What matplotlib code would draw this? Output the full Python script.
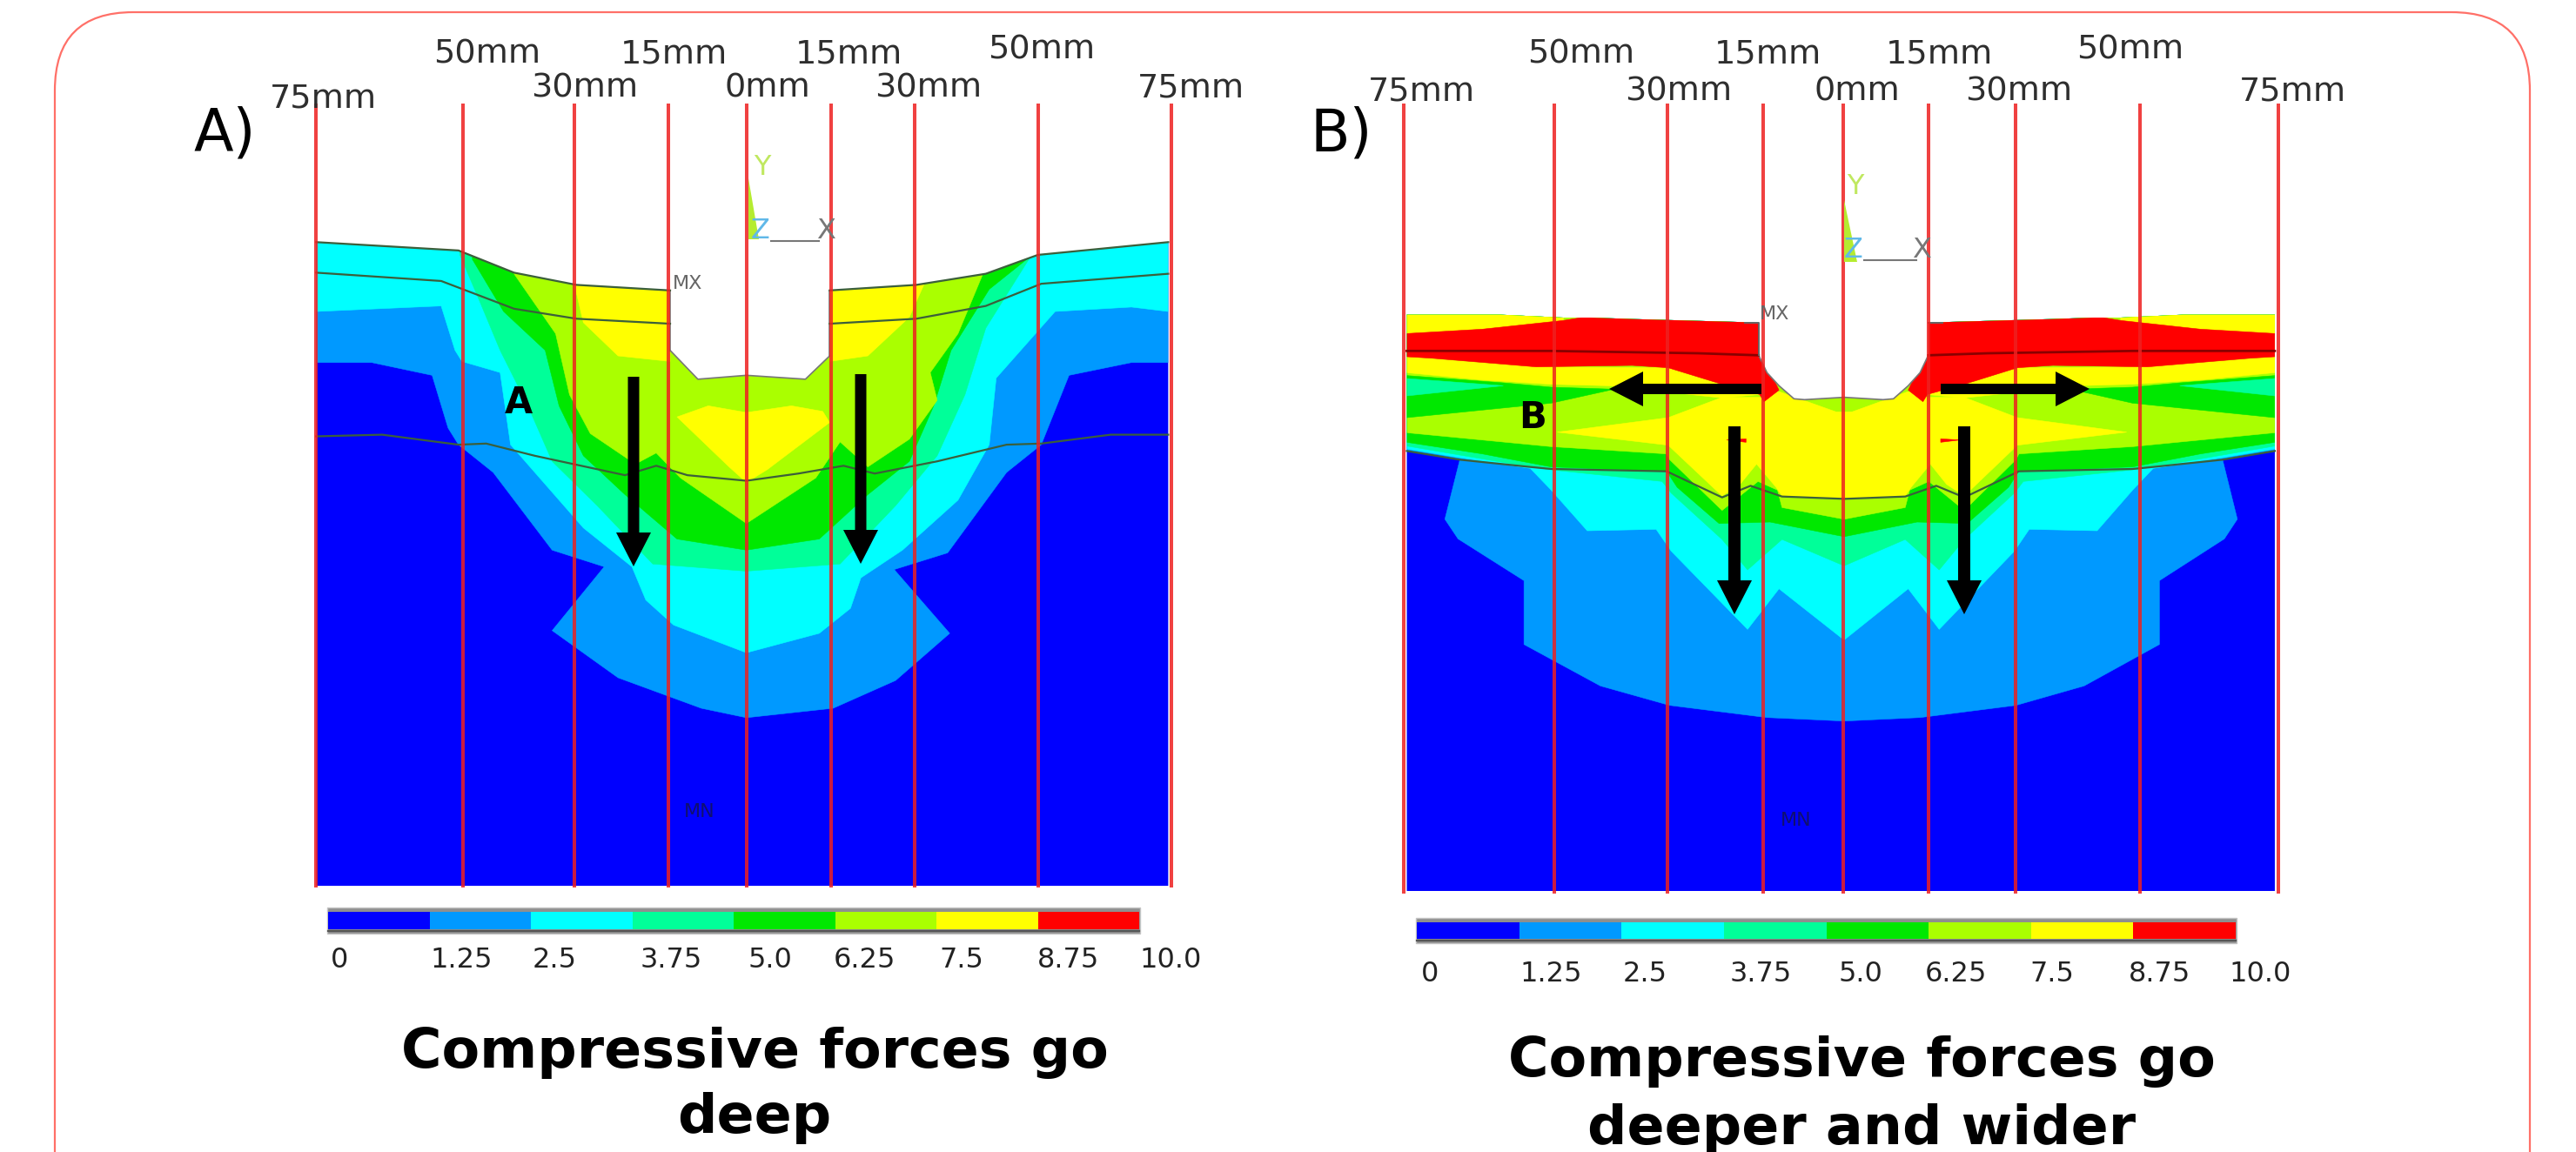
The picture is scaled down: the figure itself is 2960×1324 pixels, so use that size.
import numpy as np
import matplotlib
matplotlib.use("Agg")
import matplotlib.pyplot as plt
from matplotlib.patches import Polygon, Rectangle, FancyBboxPatch

plt.rcParams['font.family'] = ['DejaVu Sans']

LEVEL_COLORS = ['#0000ff', '#0099ff', '#00ffff', '#00ff99', '#00e800', '#aaff00', '#ffff00', '#ff0000']
LEVEL_LABELS = ['0', '1.25', '2.5', '3.75', '5.0', '6.25', '7.5', '8.75', '10.0']
DIST_LABELS = ['75mm', '50mm', '30mm', '15mm', '0mm', '15mm', '30mm', '50mm', '75mm']

# ---------- Panel A: read in crop units (crop origin 200,20; x scale 1.2544; y scale 1.568)
A_TOP = [(205, 405), (410, 420), (490, 460), (580, 482), (715, 492), (945, 492), (1070, 482), (1170, 462), (1245, 428), (1433, 405)]
A_BOTTOM = 1565
A_LIGHTBLUE = [(205, 622), (285, 622), (372, 645), (395, 740), (410, 770), (460, 820), (545, 960), (620, 990), (545, 1105), (640, 1190), (760, 1245), (825, 1262), (950, 1245), (1040, 1195), (1118, 1110), (1038, 995), (1115, 965), (1200, 820), (1250, 770), (1290, 645), (1380, 622), (1433, 622)]
A_CYAN = [(205, 530), (385, 520), (405, 600), (415, 620), (470, 640), (485, 770), (520, 820), (590, 920), (660, 990), (680, 1050), (720, 1095), (825, 1145), (930, 1110), (975, 1065), (990, 1010), (1050, 960), (1130, 870), (1175, 770), (1185, 650), (1270, 530), (1380, 522), (1433, 530)]
A_TEAL = [(412, 428), (440, 510), (470, 600), (510, 700), (545, 800), (610, 880), (690, 985), (825, 998), (960, 985), (1040, 880), (1100, 790), (1140, 680), (1170, 560), (1235, 430)]
A_GREEN = [(430, 436), (475, 530), (535, 600), (555, 700), (590, 790), (650, 860), (725, 940), (825, 960), (930, 940), (1000, 860), (1060, 800), (1095, 700), (1120, 600), (1175, 490), (1235, 430)]
A_LIME = [(490, 462), (550, 570), (570, 680), (600, 750), (665, 805), (695, 785), (730, 830), (825, 912), (925, 830), (960, 765), (1000, 810), (1060, 760), (1100, 690), (1090, 640), (1130, 570), (1165, 465)]
A_YELLOW_L = [(575, 470), (590, 550), (640, 610), (715, 620), (715, 470)]
A_YELLOW_R = [(945, 470), (945, 620), (1000, 610), (1060, 540), (1085, 470)]
A_YELLOW_C = [(725, 720), (770, 700), (825, 712), (890, 700), (935, 710), (945, 730), (855, 815), (825, 838), (800, 810)]
A_NOTCH = [(715, 380), (715, 600), (755, 652), (825, 645), (910, 652), (945, 610), (945, 380)]
A_LINE2 = [(205, 460), (385, 475), (490, 525), (580, 543), (715, 552)]
A_LINE2R = [(945, 552), (1070, 543), (1170, 520), (1250, 480), (1433, 462)]
A_LINE3 = [(205, 755), (300, 752), (410, 770), (450, 768), (520, 790), (650, 825), (695, 808), (740, 825), (825, 835), (900, 822), (965, 808), (1010, 822), (1100, 800), (1200, 770), (1250, 768), (1350, 752), (1433, 752)]
A_LINES_X = [205, 417, 577, 713, 825, 947, 1068, 1245, 1437]

# ---------- Panel B: left half read in crop units (crop origin 1600,340; x scale 2.904; y scale 3)
B_TOP = [(48, 65), (360, 65), (570, 75), (660, 75), (800, 80), (1220, 92), (1505, 92)]
B_BOTTOM = 2052
B_LIGHTBLUE = [(48, 535), (225, 565), (175, 770), (219, 838), (439, 982), (439, 1202), (694, 1345), (925, 1412), (1249, 1454), (1505, 1466)]
B_CYAN = [(48, 528), (225, 558), (460, 595), (530, 670), (650, 810), (880, 805), (930, 880), (1185, 1150), (1290, 1010), (1505, 1185)]
B_TEAL = [(48, 518), (230, 550), (460, 590), (530, 600), (900, 640), (930, 680), (1100, 840), (1185, 945), (1300, 840), (1505, 930)]
B_GREEN = [(48, 505), (300, 545), (530, 590), (915, 605), (950, 660), (1090, 785), (1260, 780), (1505, 830)]
B_LIME = [(48, 472), (530, 520), (915, 545), (925, 565), (1100, 740), (1160, 690), (1220, 640), (1285, 670), (1300, 730), (1505, 770)]
B_YELLOW_BIG = [(1505, 400), (1480, 400), (1290, 330), (1230, 350), (1100, 350), (920, 420), (550, 470), (920, 515), (1100, 690), (1160, 650), (1215, 580), (1280, 660), (1300, 690), (1505, 700)]
B_GREEN_WEDGE = [(48, 275), (370, 300), (530, 315), (740, 322), (530, 370), (48, 420)]
B_TEAL_WEDGE = [(48, 285), (370, 310), (48, 345)]
B_YELLOW_UP = [(48, 210), (480, 245), (920, 248), (1110, 310), (1230, 340), (1100, 352), (720, 310), (530, 305), (300, 290), (48, 265)]
B_YELLOW_TOP = [(48, 60), (360, 60), (570, 70), (570, 85), (300, 115), (48, 130)]
B_RED = [(48, 130), (300, 115), (570, 85), (660, 70), (800, 75), (1225, 88), (1240, 220), (1290, 325), (1240, 365), (1225, 340), (1100, 305), (920, 248), (800, 240), (480, 245), (130, 215), (48, 210)]
B_FLECK = [(1115, 497), (1180, 493), (1180, 505)]
B_NOTCH = [(1222, -60), (1222, 205), (1250, 265), (1290, 310), (1340, 355), (1375, 358), (1505, 350)]
B_DARK = [(48, 190), (530, 190), (1020, 198), (1222, 205)]
B_LINE3 = [(48, 535), (225, 565), (460, 590), (530, 597), (915, 605), (1100, 695), (1195, 655), (1300, 692), (1505, 700)]
B_LINES_X = [1613, 1786, 1916, 2026, 2118, 2216, 2316, 2459, 2618]

fig = plt.figure(figsize=(29.6, 13.24), dpi=100)
ax = fig.add_axes([0, 0, 1, 1])
ax.set_xlim(0, 2960)
ax.set_ylim(1324, 0)
ax.axis('off')

ax.add_patch(FancyBboxPatch((63, 14), 2844, 1500, boxstyle='round,pad=0,rounding_size=90',
                            fc='white', ec='#ff7068', lw=1.6, zorder=0))


def fa(pts):
    return [(200 + x / 1.2544, 20 + y / 1.568) for x, y in pts]


def fb(pts):
    return [(1600 + x / 2.904, 340 + y / 3) for x, y in pts]


def mirror(pts):
    return [(2119 + (2119 - x) * 0.985, y) for x, y in pts]


def band(pts, color, clip, z):
    p = Polygon(pts, closed=True, fc=color, ec=color, lw=0.4, zorder=z)
    ax.add_patch(p)
    p.set_clip_path(clip)


def from_top(pts):
    return list(pts) + [(pts[-1][0], 0), (pts[0][0], 0)]


def arrow(x0, y0, x1, y1, shaft):
    ax.arrow(x0, y0, x1 - x0, y1 - y0, width=shaft, head_width=40, head_length=39,
             length_includes_head=True, fc='black', ec='black', lw=0, zorder=8)


def colorbar(x0, x1, y0, y1, label_x, label_y):
    edges = np.linspace(x0, x1, len(LEVEL_COLORS) + 1)
    ax.add_patch(Rectangle((x0 - 1, y0 - 2), x1 - x0 + 2, y1 - y0 + 3, fc='#8f8f8f', ec='#c4c4c4', lw=1, zorder=3))
    for a, b, c in zip(edges[:-1], edges[1:], LEVEL_COLORS):
        ax.add_patch(Rectangle((a, y0 + 3), b - a, y1 - y0 - 7, fc=c, ec='none', zorder=4))
    ax.plot([x0, x1], [y1 - 2, y1 - 2], color='#555555', lw=1.6, zorder=5)
    for x, t in zip(label_x, LEVEL_LABELS):
        ax.text(x, label_y, t, ha='center', va='center', fontsize=23, color='#222222', zorder=6)


def dist_labels(xs, ys):
    for x, y, t in zip(xs, ys, DIST_LABELS):
        ax.text(x, y + 3, t, ha='center', va='center', fontsize=27.5, color='#2e2e2e', zorder=6)


# ---------- Panel A
a_slab_pts = fa(A_TOP) + fa([(1433, A_BOTTOM), (205, A_BOTTOM)])
a_slab = Polygon(a_slab_pts, closed=True, fc=LEVEL_COLORS[0], ec='none', zorder=1)
ax.add_patch(a_slab)
for pts, c in [(A_LIGHTBLUE, 1), (A_CYAN, 2), (A_TEAL, 3), (A_GREEN, 4), (A_LIME, 5)]:
    band(from_top(fa(pts)), LEVEL_COLORS[c], a_slab, 2)
for pts in [A_YELLOW_L, A_YELLOW_R, A_YELLOW_C]:
    band(fa(pts), LEVEL_COLORS[6], a_slab, 2.1)
ax.add_patch(Polygon(fa(A_NOTCH), closed=True, fc='white', ec='none', zorder=2.2))
ax.plot(*zip(*fa(A_NOTCH[1:-1])), color='#777777', lw=1.2, zorder=2.3)
ax.plot(*zip(*fa([(715, 492), (715, 600)])), color='#777777', lw=1.2, zorder=2.3)
ax.plot(*zip(*fa([(945, 492), (945, 610)])), color='#777777', lw=1.2, zorder=2.3)
for ln in [A_TOP[:5], A_TOP[5:], A_LINE2, A_LINE2R, A_LINE3]:
    ax.plot(*zip(*fa(ln)), color='#3b5f3b', lw=1.6, zorder=2.5)
ax.vlines([200 + x / 1.2544 for x in A_LINES_X], 119, 1020, color='#ee2020', alpha=0.85, lw=2.9, zorder=3)
arrow(728, 433, 728, 651, 13)
arrow(989, 430, 989, 648, 13)
ax.text(596, 463, 'A', ha='center', va='center', fontsize=30, fontweight='bold', color='black', zorder=9)
ax.text(222, 173, 'A)', ha='left', va='baseline', fontsize=48, color='black', zorder=9)
ax.text(790, 326, 'MX', ha='center', va='center', fontsize=16, color='#666666', zorder=6)
ax.text(804, 933, 'MN', ha='center', va='center', fontsize=16, color='#101070', zorder=6)
# coordinate triad A
ax.add_patch(Polygon(fa([(828, 290), (828, 400), (843, 400)]), closed=True, fc='#b5ec30', ec='none', zorder=5))
ax.plot(*zip(*fa([(860, 403), (930, 403)])), color='#777777', lw=1.5, zorder=5)
ax.text(*fa([(848, 270)])[0], 'Y', ha='center', va='center', fontsize=23, color='#c0e860', zorder=6)
ax.text(*fa([(845, 385)])[0], 'Z', ha='center', va='center', fontsize=23, color='#60b8e8', zorder=6)
ax.text(*fa([(940, 385)])[0], 'X', ha='center', va='center', fontsize=23, color='#777777', zorder=6)
dist_labels([371, 560, 672, 774, 882, 975, 1067, 1197, 1368], [111, 59.5, 99, 59.5, 99, 59.5, 99, 55, 99])
colorbar(377, 1309, 1045, 1072, [390, 530, 637, 771, 885, 993, 1105, 1228, 1345], 1103)
ax.text(867, 1227, 'Compressive forces go', ha='center', va='baseline', fontsize=45.7, fontweight='bold', color='black', zorder=9)
ax.text(867, 1302, 'deep', ha='center', va='baseline', fontsize=45.7, fontweight='bold', color='black', zorder=9)

# ---------- Panel B
b_top = fb(B_TOP)
b_slab_pts = b_top + mirror(b_top)[::-1] + [(mirror(b_top)[0][0], 340 + B_BOTTOM / 3), (b_top[0][0], 340 + B_BOTTOM / 3)]
b_slab = Polygon(b_slab_pts, closed=True, fc=LEVEL_COLORS[0], ec='none', zorder=1)
ax.add_patch(b_slab)


def both(pts):
    f = fb(pts)
    return f + mirror(f)[::-1]


def both_top(pts):
    f = fb(pts)
    full = f + mirror(f)[::-1]
    return from_top(full)


for pts, c in [(B_LIGHTBLUE, 1), (B_CYAN, 2), (B_TEAL, 3), (B_GREEN, 4), (B_LIME, 5)]:
    band(both_top(pts), LEVEL_COLORS[c], b_slab, 2)
band(both(B_YELLOW_BIG), LEVEL_COLORS[6], b_slab, 2.1)
for pts, c in [(B_GREEN_WEDGE, 4), (B_TEAL_WEDGE, 3), (B_YELLOW_UP, 6), (B_YELLOW_TOP, 6), (B_RED, 7), (B_FLECK, 7)]:
    band(fb(pts), LEVEL_COLORS[c], b_slab, 2.2)
    band(mirror(fb(pts)), LEVEL_COLORS[c], b_slab, 2.2)
nb = fb(B_NOTCH)
ax.add_patch(Polygon(nb + mirror(nb)[::-1], closed=True, fc='white', ec='none', zorder=2.4))
edge = fb(B_NOTCH[1:])
ax.plot(*zip(*(edge + mirror(edge)[::-1])), color='#777777', lw=1.2, zorder=2.45)
for ln in [fb(B_DARK), mirror(fb(B_DARK))]:
    ax.plot(*zip(*ln), color='#8a0000', lw=2, zorder=2.5)
l3 = fb(B_LINE3)
ax.plot(*zip(*(l3 + mirror(l3)[::-1])), color='#3b5f3b', lw=1.6, zorder=2.5)
stub = fb([(1175, 92), (1222, 92), (1222, 205)])
ax.plot(*zip(*stub), color='#666666', lw=1.4, zorder=2.5)
ax.plot(*zip(*mirror(fb([(1175, 92), (1222, 92)]))), color='#666666', lw=1.4, zorder=2.5)
ax.vlines(B_LINES_X, 119, 1027, color='#ee2020', alpha=0.85, lw=2.9, zorder=3)
arrow(1993, 490, 1993, 706, 14)
arrow(2257, 490, 2257, 706, 14)
arrow(2024, 447, 1849, 447, 12)
arrow(2230, 447, 2401, 447, 12)
ax.text(1761, 480, 'B', ha='center', va='center', fontsize=30, fontweight='bold', color='black', zorder=9)
ax.text(1506, 173, 'B)', ha='left', va='baseline', fontsize=48, color='black', zorder=9)
ax.text(2039, 361, 'MX', ha='center', va='center', fontsize=16, color='#666666', zorder=6)
ax.text(2064, 943, 'MN', ha='center', va='center', fontsize=16, color='#101070', zorder=6)
# coordinate triad B
fz = lambda x, y: (1520 + x / 1.2544, 20 + y / 1.568)
ax.add_patch(Polygon([fz(752, 330), fz(752, 440), fz(770, 440)], closed=True, fc='#b5ec30', ec='none', zorder=5))
ax.plot(*zip(fz(780, 438), fz(855, 438)), color='#777777', lw=1.5, zorder=5)
ax.text(*fz(768, 305), 'Y', ha='center', va='center', fontsize=23, color='#c0e860', zorder=6)
ax.text(*fz(765, 420), 'Z', ha='center', va='center', fontsize=23, color='#60b8e8', zorder=6)
ax.text(*fz(863, 420), 'X', ha='center', va='center', fontsize=23, color='#777777', zorder=6)
dist_labels([1633, 1817, 1929, 2031, 2134, 2228, 2320, 2448, 2634], [103, 59.5, 103, 59.5, 103, 59.5, 103, 55, 103])
colorbar(1628, 2569, 1057, 1083, [1643, 1782, 1890, 2023, 2138, 2247, 2358, 2482, 2597], 1119)
ax.text(2139, 1237, 'Compressive forces go', ha='center', va='baseline', fontsize=45.7, fontweight='bold', color='black', zorder=9)
ax.text(2139, 1315, 'deeper and wider', ha='center', va='baseline', fontsize=45.7, fontweight='bold', color='black', zorder=9)

fig.savefig('out.png', dpi=100)
